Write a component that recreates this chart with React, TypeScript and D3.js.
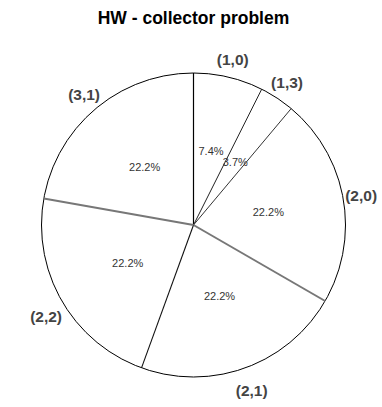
import React from "react";
import * as d3 from "d3";

const categories = ["(1,0)", "(1,3)", "(2,0)", "(2,1)", "(2,2)", "(3,1)"];
const counts = [2, 1, 6, 6, 6, 6];
const percentLabels = ["7.4%", "3.7%", "22.2%", "22.2%", "22.2%", "22.2%"];
const title = "HW - collector problem";

const W = 382;
const H = 407;
const cx = 193.5;
const cy = 225;
const R = 152;
// boundary line styles, one per slice start edge
const edgeColors = ["#000", "#222", "#333", "#777", "#111", "#777"];
const edgeWidths = [1.2, 1, 1, 2, 1.1, 2];

export default function App() {
  const pie = d3
    .pie<number>()
    .sort(null)
    .startAngle(0)
    .endAngle(2 * Math.PI)
    .value((d) => d);
  const arcs = pie(counts);
  const arcGen = d3.arc<d3.PieArcDatum<number>>().innerRadius(0).outerRadius(R);

  return (
    <svg
      width={W}
      height={H}
      style={{ position: "absolute", left: 0, top: 0, background: "#fff" }}
      fontFamily="'Liberation Sans', Arial, sans-serif"
    >
      <rect width={W} height={H} fill="#fff" />
      <text x={193.5} y={24} textAnchor="middle" fontSize={17.5} fontWeight="bold" fill="#000">
        {title}
      </text>
      <g transform={`translate(${cx},${cy})`}>
        {arcs.map((a, i) => (
          <path key={"s" + i} d={arcGen(a) || ""} fill="#fff" stroke="none" />
        ))}
        <circle r={R} fill="none" stroke="#000" strokeWidth={1} />
        {arcs.map((a, i) => {
          const ang = a.startAngle;
          return (
            <line
              key={"e" + i}
              x1={0}
              y1={0}
              x2={R * Math.sin(ang)}
              y2={-R * Math.cos(ang)}
              stroke={edgeColors[i]}
              strokeWidth={edgeWidths[i]}
            />
          );
        })}
        {arcs.map((a, i) => {
          const mid = (a.startAngle + a.endAngle) / 2;
          const rr = R * 0.5;
          return (
            <text
              key={"p" + i}
              x={rr * Math.sin(mid)}
              y={-rr * Math.cos(mid)}
              textAnchor="middle"
              dominantBaseline="central"
              fontSize={11}
              fill="#333"
            >
              {percentLabels[i]}
            </text>
          );
        })}
        {arcs.map((a, i) => {
          const mid = (a.startAngle + a.endAngle) / 2;
          const lr = R * 1.12;
          const c = Math.cos(mid);
          return (
            <text
              key={"l" + i}
              x={lr * Math.sin(mid)}
              y={-lr * c + (c < 0 ? 6 : 0)}
              textAnchor="middle"
              dominantBaseline="central"
              fontSize={15.5}
              fontWeight="bold"
              fill="#444"
            >
              {categories[i]}
            </text>
          );
        })}
      </g>
    </svg>
  );
}
